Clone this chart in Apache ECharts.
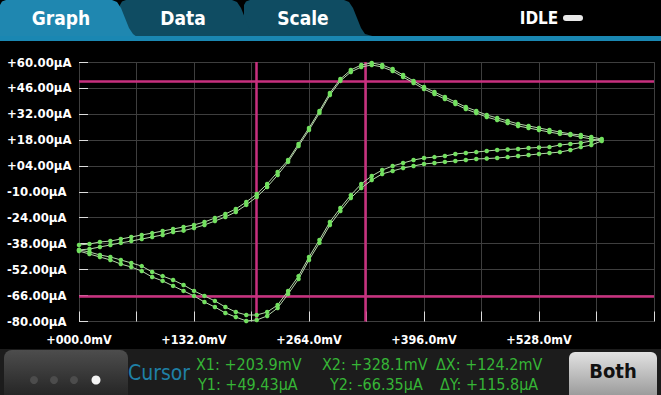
<!DOCTYPE html>
<html>
<head>
<meta charset="utf-8">
<script src="https://cdn.jsdelivr.net/npm/echarts@6/dist/echarts.min.js"></script>
<style>
html,body{margin:0;padding:0;background:#000;}
#chart{width:661px;height:395px;}
</style>
</head>
<body>
<div id="chart"></div>
<script>
// ---- data ----
const forwardVoltage_mV = [0,12,24,36,48,60,72,84,96,108,120,132,144,156,168,180,192,204,216,228,240,252,264,276,288,300,312,324,336,348,360,372,384,396,408,420,432,444,456,468,480,492,504,516,528,540,552,564,576,588,600];
const reverseVoltage_mV = [588,576,564,552,540,528,516,504,492,480,468,456,444,432,420,408,396,384,372,360,348,336,324,312,300,288,276,264,252,240,228,216,204,192,180,168,156,144,132,120,108,96,84,72,60,48,36,24,12,0];

const cycle1Forward_uA = [-38.7,-38.2,-37.1,-36.6,-35.5,-34.4,-33.3,-32.3,-31.2,-30.1,-29.0,-27.9,-26.3,-24.2,-22.0,-19.3,-15.5,-11.2,-5.8,0.7,7.1,15.8,24.4,33.6,43.3,50.8,55.7,58.4,59.5,58.4,56.2,53.0,49.8,46.5,43.8,41.1,38.4,35.7,33.6,31.4,29.8,28.2,26.6,25.5,24.4,23.3,22.2,21.2,20.6,19.5,18.5];
const cycle1Reverse_uA = [17.4,16.3,15.8,15.2,14.1,13.9,13.6,13.1,12.8,12.5,12.0,11.4,10.9,10.4,9.3,8.7,8.2,7.1,5.5,3.9,1.7,-1.5,-5.8,-11.8,-18.8,-26.3,-36.0,-45.2,-55.5,-63.5,-71.1,-74.9,-76.5,-76.5,-74.9,-72.2,-68.9,-66.2,-63.5,-60.3,-57.6,-55.5,-53.3,-50.1,-48.4,-46.8,-45.2,-44.1,-42.5,-41.4];
const cycle2Forward_uA = [-41.4,-40.9,-39.8,-38.7,-37.6,-36.6,-35.5,-34.4,-33.3,-31.7,-31.0,-29.6,-27.9,-25.8,-23.6,-20.9,-17.1,-12.8,-7.4,-1.0,6.1,14.7,23.3,32.5,42.2,49.8,54.6,57.3,58.4,57.3,55.1,51.9,48.7,45.4,42.7,40.0,37.3,34.6,32.5,30.3,28.7,27.1,25.5,24.4,23.3,22.2,21.2,20.6,19.5,18.5,17.4];
const cycle2Reverse_uA = [15.2,14.1,12.5,11.4,10.9,10.4,9.8,9.3,8.7,8.2,7.9,7.7,7.1,6.6,6.1,5.5,5.0,3.9,2.8,1.2,-0.4,-3.7,-8.0,-13.4,-20.4,-27.9,-37.6,-46.8,-57.1,-65.2,-72.7,-77.0,-79.2,-79.7,-77.6,-75.4,-72.2,-69.5,-66.2,-63.5,-60.8,-58.1,-56.0,-52.8,-50.6,-49.0,-46.8,-45.2,-43.6,-42.0];

const xTicks_mV = [0, 660, 66];          // min, max, step
const yTicks_uA = [-80, 60, 14];         // min, max, step
const cursorX_mV = [203.9, 328.1];
const cursorY_uA = [49.43, -66.35];
const tabLabels = ['Graph', 'Data', 'Scale'];
const statusText = 'IDLE';
const buttonText = 'Both';

// ---- helpers ----
const Y_OFF = -yTicks_uA[0]; // shift so the axis min is 0 (ticks counted from min)
const FONT = "'DejaVu Sans Condensed','Liberation Sans Narrow','DejaVu Sans',sans-serif";
function fmtUA(v){ const s = v < 0 ? '-' : '+'; return s + Math.abs(v).toFixed(2).padStart(5,'0') + 'µA'; }
function fmtMV(v){ const s = v < 0 ? '-' : '+'; return s + Math.abs(v).toFixed(1).padStart(5,'0') + 'mV'; }
function pts(xs, ys){ return xs.map((x,i)=>[x, ys[i] + Y_OFF]); }

const cycle1 = pts(forwardVoltage_mV, cycle1Forward_uA).concat(pts(reverseVoltage_mV, cycle1Reverse_uA));
const cycle2 = pts(forwardVoltage_mV, cycle2Forward_uA).concat(pts(reverseVoltage_mV, cycle2Reverse_uA));

const curveStyle = {
  type:'line', symbol:'circle', symbolSize:4.5, showSymbol:true, z:5,
  lineStyle:{color:'#b9d8ae', width:1},
  itemStyle:{color:'#72e05f'},
  emphasis:{disabled:true}, animation:false
};

const dX = cursorX_mV[1]-cursorX_mV[0];
const dY = cursorY_uA[0]-cursorY_uA[1];
const line1 = ['X1: '+fmtMV(cursorX_mV[0]), 'X2: '+fmtMV(cursorX_mV[1]), 'ΔX: '+fmtMV(dX)];
const line2 = ['Y1: '+fmtUA(cursorY_uA[0]), 'Y2: '+fmtUA(cursorY_uA[1]), 'ΔY: +'+dY.toFixed(1)+'µA'];

function txt(x,y,text,font,fill,align){
  return {type:'text', x:x, y:y, z:10, silent:true,
    style:{text:text, font:font, fill:fill, align:align||'left', textAlign:align||'left', verticalAlign:'middle', textVerticalAlign:'middle'}};
}
function tabPoly(x0, xTop, xBot, fill){
  return {type:'polygon', z:2, silent:true, shape:{points:[
    [x0,37],[x0,5],[x0+2,1.5],[x0+6,0],[xTop,0],[xTop+5,2],[xTop+9,8],[xTop+13,18],[xTop+17,28],[xTop+21,34],[xBot,37]
  ]}, style:{fill:fill}};
}

const graphics = [
  tabPoly(244, 344, 376, '#0f4c62'),
  tabPoly(120, 232, 256, '#0f4c62'),
  tabPoly(0, 112, 137, '#1f87b0'),
  {type:'rect', z:3, silent:true, shape:{x:0,y:36,width:661,height:5}, style:{fill:'#1a87b2'}},
  txt(61, 18, tabLabels[0], 'bold 19px '+FONT, '#ffffff', 'center'),
  txt(183, 18, tabLabels[1], 'bold 19px '+FONT, '#ffffff', 'center'),
  txt(303, 18, tabLabels[2], 'bold 19px '+FONT, '#ffffff', 'center'),
  txt(539, 18, statusText, 'bold 17px '+FONT, '#ffffff', 'center'),
  {type:'rect', z:3, silent:true, shape:{x:563,y:15,width:20,height:6,r:3}, style:{fill:'#e8e8e8'}},
  // bottom panel
  {type:'rect', z:1, silent:true, shape:{x:0,y:349,width:661,height:46}, style:{fill:'#1c1c1c'}},
  {type:'rect', z:2, silent:true, shape:{x:4,y:350,width:124,height:45,r:[8,8,0,0]},
    style:{fill:{type:'linear',x:0,y:0,x2:0,y2:1,colorStops:[{offset:0,color:'#4d4d4d'},{offset:1,color:'#262626'}]}}},
  {type:'circle', z:3, silent:true, shape:{cx:34,cy:380,r:4}, style:{fill:'#4c4c4c'}},
  {type:'circle', z:3, silent:true, shape:{cx:54,cy:380,r:4}, style:{fill:'#4c4c4c'}},
  {type:'circle', z:3, silent:true, shape:{cx:74,cy:380,r:4}, style:{fill:'#4c4c4c'}},
  {type:'circle', z:3, silent:true, shape:{cx:96,cy:380,r:4.5}, style:{fill:'#f4f4f4'}},
  txt(128, 373, 'Cursor', '21px '+FONT, '#1f80a6', 'left'),
  txt(196, 364, line1[0], '16px '+FONT, '#36b536', 'left'),
  txt(322, 364, line1[1], '16px '+FONT, '#36b536', 'left'),
  txt(436, 364, line1[2], '16px '+FONT, '#36b536', 'left'),
  txt(198, 384, line2[0], '16px '+FONT, '#36b536', 'left'),
  txt(330, 384, line2[1], '16px '+FONT, '#36b536', 'left'),
  txt(440, 384, line2[2], '16px '+FONT, '#36b536', 'left'),
  {type:'rect', z:2, silent:true, shape:{x:569,y:352,width:88,height:43,r:[6,6,0,0]},
    style:{fill:{type:'linear',x:0,y:0,x2:0,y2:1,colorStops:[{offset:0,color:'#e2e2e2'},{offset:1,color:'#9c9c9c'}]}}},
  txt(613, 371, buttonText, 'bold 20px '+FONT, '#111111', 'center')
];

const chart = echarts.init(document.getElementById('chart'), null, {renderer:'svg', width:661, height:395});
chart.setOption({
  backgroundColor:'#000000',
  animation:false,
  grid:{left:79, right:7, top:62, height:259.5, containLabel:false},
  xAxis:{
    type:'value', min:xTicks_mV[0], max:xTicks_mV[1], interval:xTicks_mV[2],
    axisLine:{show:false},
    axisTick:{show:true, inside:true, length:10, lineStyle:{color:'#dddddd', width:1}},
    splitLine:{show:true, lineStyle:{color:'#3e3e3e', width:1}},
    axisLabel:{margin:11, color:'#ffffff', fontFamily:FONT, fontWeight:'bold', fontSize:12.5,
      formatter:v => (v % (2*xTicks_mV[2]) === 0 && v < xTicks_mV[1]) ? fmtMV(v) : ''}
  },
  yAxis:{
    type:'value', min:0, max:yTicks_uA[1]+Y_OFF, interval:yTicks_uA[2],
    axisLine:{show:false},
    axisTick:{show:true, inside:true, length:9, lineStyle:{color:'#dddddd', width:1}},
    splitLine:{show:true, lineStyle:{color:'#3e3e3e', width:1}},
    axisLabel:{margin:72, align:'left', color:'#ffffff', fontFamily:FONT, fontWeight:'bold', fontSize:13,
      formatter:v => fmtUA(v - Y_OFF)}
  },
  series:[
    {type:'line', data:[], z:1, silent:true, markLine:{silent:true, symbol:['none','none'], animation:false,
      label:{show:false}, lineStyle:{color:'#c8307f', width:2.5, type:'solid'},
      emphasis:{disabled:true},
      data:[{xAxis:cursorX_mV[0]},{xAxis:cursorX_mV[1]},{yAxis:cursorY_uA[0]+Y_OFF},{yAxis:cursorY_uA[1]+Y_OFF}]}},
    Object.assign({name:'Cycle 1', data:cycle1}, curveStyle),
    Object.assign({name:'Cycle 2', data:cycle2}, curveStyle)
  ],
  graphic:{elements:graphics}
});
</script>
</body>
</html>
